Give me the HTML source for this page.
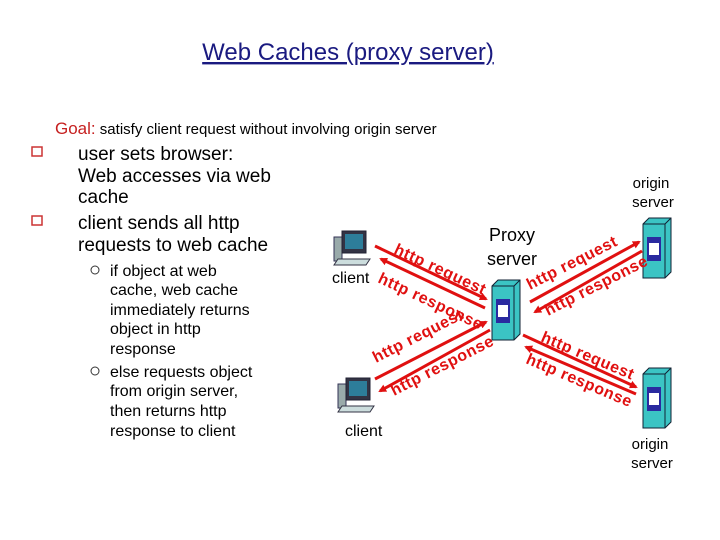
<!DOCTYPE html>
<html><head><meta charset="utf-8"><style>
body{margin:0;background:#fff;}
svg{display:block;font-family:"Liberation Sans",sans-serif;}
</style></head><body>
<svg width="720" height="540" viewBox="0 0 720 540">
<defs>
<marker id="a" markerWidth="8" markerHeight="8" refX="6" refY="4" orient="auto" markerUnits="userSpaceOnUse"><path d="M0,0 L8,4 L0,8 z" fill="#e01010"/></marker>
<g id="pc">
<rect x="0" y="6" width="8" height="24" fill="#9aa" stroke="#335" stroke-width="1"/>
<rect x="8" y="0" width="24" height="22" fill="#334" stroke="#223"/>
<rect x="11" y="3" width="18" height="15" fill="#2d7d9a"/>
<path d="M4,28 L36,28 L32,34 L0,34 z" fill="#cdd" stroke="#334"/>
</g>
<g id="srv">
<path d="M0,6 L6,0 L28,0 L28,54 L22,60 L0,60 z" fill="#3bc4c4" stroke="#123" stroke-width="1"/>
<path d="M22,6 L28,0 M22,6 L22,60 M0,6 L22,6" stroke="#123" fill="none"/>
<rect x="4" y="19" width="14" height="24" fill="#2a2aa0"/>
<rect x="6" y="25" width="10" height="12" fill="#fff"/>
</g>
</defs>
<text x="348" y="60" text-anchor="middle" font-size="24" fill="#1a1a80" text-decoration="underline">Web Caches (proxy server)</text>
<text x="55" y="134" font-size="17" fill="#c62020">Goal:<tspan fill="#000" font-size="15"> satisfy client request without involving origin server</tspan></text>
<g font-size="19" fill="#000">
<rect x="32" y="147" width="10" height="9" fill="none" stroke="#c33" stroke-width="1.5"/>
<text x="78" y="160">user sets browser:</text>
<text x="78" y="182">Web accesses via web</text>
<text x="78" y="203">cache</text>
<rect x="32" y="216" width="10" height="9" fill="none" stroke="#c33" stroke-width="1.5"/>
<text x="78" y="229">client sends all http</text>
<text x="78" y="251">requests to  web cache</text>
</g>
<g font-size="16" fill="#000">
<circle cx="95" cy="270" r="4" fill="none" stroke="#333"/>
<text x="110" y="276">if object at web</text>
<text x="110" y="295">cache, web cache</text>
<text x="110" y="315">immediately returns</text>
<text x="110" y="334">object in http</text>
<text x="110" y="354">response</text>
<circle cx="95" cy="371" r="4" fill="none" stroke="#333"/>
<text x="110" y="377">else requests object</text>
<text x="110" y="396">from origin server,</text>
<text x="110" y="416">then returns http</text>
<text x="110" y="436">response to client</text>
</g>
<use href="#pc" x="334" y="231"/>
<use href="#pc" x="338" y="378"/>
<use href="#srv" x="492" y="280"/>
<use href="#srv" x="643" y="218"/>
<use href="#srv" x="643" y="368"/>
<g font-size="16" fill="#000">
<text x="332" y="283">client</text>
<text x="345" y="436">client</text>
<text x="512" y="241" text-anchor="middle" font-size="18">Proxy</text>
<text x="512" y="265" text-anchor="middle" font-size="18">server</text>
<text x="651" y="188" text-anchor="middle" font-size="15">origin</text>
<text x="653" y="207" text-anchor="middle" font-size="15">server</text>
<text x="650" y="449" text-anchor="middle" font-size="15">origin</text>
<text x="652" y="468" text-anchor="middle" font-size="15">server</text>
</g>
<g stroke="#e01010" stroke-width="3" marker-end="url(#a)">
<line x1="375" y1="246" x2="486" y2="299"/>
<line x1="485" y1="308" x2="381" y2="259"/>
<line x1="375" y1="379" x2="486" y2="322"/>
<line x1="490" y1="330" x2="380" y2="391"/>
<line x1="530" y1="302" x2="639" y2="242"/>
<line x1="642" y1="251" x2="535" y2="312"/>
<line x1="523" y1="335" x2="636" y2="387"/>
<line x1="636" y1="394" x2="526" y2="347"/>
</g>
<g font-size="16" font-weight="bold" fill="#e01010" letter-spacing="0.6">
<text transform="translate(393,253) rotate(25)">http request</text>
<text transform="translate(377,282) rotate(25)">http response</text>
<text transform="translate(376,363) rotate(-27)">http request</text>
<text transform="translate(394,396) rotate(-27)">http response</text>
<text transform="translate(530,290) rotate(-27)">http request</text>
<text transform="translate(548,316) rotate(-27)">http response</text>
<text transform="translate(540,341) rotate(23)">http request</text>
<text transform="translate(525,363) rotate(23)">http response</text>
</g>
</svg>
</body></html>
